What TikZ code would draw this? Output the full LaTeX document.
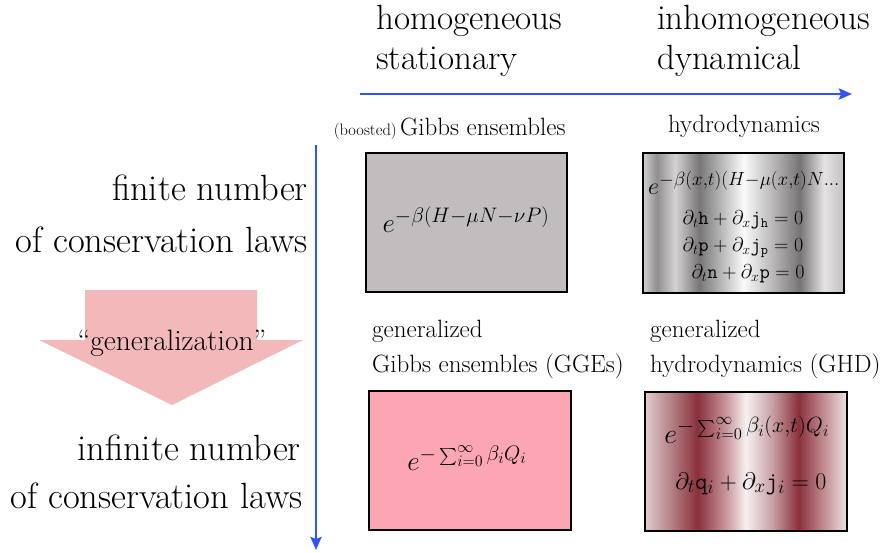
\RequirePackage{fix-cm}
\documentclass[tikz,border=0pt]{standalone}
\usepackage{graphicx}
\usetikzlibrary{arrows.meta}
\DeclareMathSizes{27}{27}{21}{16}
\DeclareMathSizes{28}{28}{22}{16.5}
\DeclareMathSizes{24}{24}{19}{14}
\newcommand{\bsum}{\mathop{\raisebox{-0.2em}{\scalebox{1.7}{$\scriptstyle\sum$}}}\nolimits}
\definecolor{axisblue}{RGB}{52,84,238}
\definecolor{boxgray}{RGB}{193,189,190}
\definecolor{boxpink}{RGB}{253,166,179}
\definecolor{fatpink}{RGB}{242,184,186}
\definecolor{g1}{RGB}{208,206,207}
\definecolor{g2}{RGB}{145,143,144}
\definecolor{g3}{RGB}{212,210,211}
\definecolor{g4}{RGB}{120,118,119}
\definecolor{g5}{RGB}{250,250,250}
\definecolor{g6}{RGB}{178,176,177}
\definecolor{g7}{RGB}{118,116,117}
\definecolor{g8}{RGB}{228,226,227}
\definecolor{g9}{RGB}{195,193,194}
\definecolor{m1}{RGB}{225,205,206}
\definecolor{m2}{RGB}{180,128,134}
\definecolor{m3}{RGB}{138,48,60}
\definecolor{m4}{RGB}{200,150,156}
\definecolor{m5}{RGB}{246,240,240}
\definecolor{m6}{RGB}{200,160,165}
\definecolor{m7}{RGB}{138,48,60}
\definecolor{m8}{RGB}{200,152,157}
\definecolor{m9}{RGB}{236,226,226}
\pgfdeclarehorizontalshading{graystripes}{100bp}{color(0bp)=(g1); color(25bp)=(g1); color(28.5bp)=(g2); color(33bp)=(g3); color(39bp)=(g4); color(50bp)=(g5); color(58bp)=(g6); color(64bp)=(g7); color(70bp)=(g8); color(75bp)=(g9); color(100bp)=(g9)}
\pgfdeclarehorizontalshading{maroonstripes}{100bp}{color(0bp)=(m1); color(25bp)=(m1); color(31.5bp)=(m2); color(38bp)=(m3); color(45bp)=(m4); color(50bp)=(m5); color(56.5bp)=(m6); color(63bp)=(m7); color(70bp)=(m8); color(75bp)=(m9); color(100bp)=(m9)}
\tikzset{
  bigtext/.style={font=\fontsize{36.5}{42}\selectfont, inner sep=0pt},
  toptext/.style={font=\fontsize{35}{40}\selectfont, inner sep=0pt},
  midtext/.style={font=\fontsize{25}{30}\selectfont, inner sep=0pt},
  smalltext/.style={font=\fontsize{16.5}{20}\selectfont, inner sep=0pt},
  formula/.style={font=\fontsize{27}{31}\selectfont, inner sep=0pt},
  bigformula/.style={font=\fontsize{28}{32}\selectfont, inner sep=0pt},
  hydroexp/.style={font=\fontsize{24}{28}\selectfont, inner sep=0pt},
  eqline/.style={font=\fontsize{20}{24}\selectfont, inner sep=0pt},
  axis/.style={draw=axisblue, line width=2.5pt, -{Stealth[length=13pt,width=11pt,inset=2pt]}},
  panel/.style={draw=black, line width=1.5pt},
}
\begin{document}
\begin{tikzpicture}[x=1pt,y=-1pt]
\useasboundingbox (0,0) rectangle (888,552);
% axes
\coordinate (hs) at (360,94);
\coordinate (he) at (852,94);
\coordinate (vs) at (316,145);
\coordinate (ve) at (316,550);
\draw[axis] (hs) -- (he);
\draw[axis] (vs) -- (ve);
% top labels
\node[toptext, anchor=base west] (hom) at (376,29) {homogeneous};
\node[toptext, anchor=base west] (sta) at (376,69) {stationary};
\node[toptext, anchor=base west] (inh) at (657,29) {inhomogeneous};
\node[toptext, anchor=base west] (dyn) at (657,69) {dynamical};
% left labels
\node[bigtext, anchor=base east] (fin1) at (308,200) {finite number};
\node[bigtext, anchor=base east] (fin2) at (308,252) {of conservation laws};
\node[bigtext, anchor=base east] (inf1) at (301,460) {infinite number};
\node[bigtext, anchor=base east] (inf2) at (303,508) {of conservation laws};
% fat arrow
\fill[fatpink] (85,290) -- (257,290) -- (257,340) -- (303,340) -- (172,405) -- (39,340) -- (85,340) -- cycle;
\node[inner sep=0pt, font=\fontsize{29.5}{34}\selectfont, anchor=base] (gen) at (172,350) {``generalization''};
% column labels
\node[smalltext, anchor=base east] (boo) at (397,135) {(boosted)};
\node[midtext, anchor=base west] (gib) at (400,135) {Gibbs ensembles};
\node[midtext, anchor=base] (hyd) at (744,132) {hydrodynamics};
\node[midtext, anchor=base west] (gz1) at (372,337) {generalized};
\node[midtext, anchor=base west] (gge) at (372,372) {Gibbs ensembles (GGEs)};
\node[midtext, anchor=base west] (gz2) at (650,337) {generalized};
\node[midtext, anchor=base west] (ghd) at (650,372) {hydrodynamics (GHD)};
% panels
\filldraw[panel, fill=boxgray] (366,153) rectangle (567,292);
\draw[panel, shading=graystripes] (643,153) rectangle (844,293);
\filldraw[panel, fill=boxpink] (369,391) rectangle (571,530);
\draw[panel, shading=maroonstripes] (645,392) rectangle (847,531);
% formulas
\node[formula, anchor=base] (fg) at (466,232) {$e^{-\beta(H-\mu N-\nu P)}$};
\node[hydroexp, anchor=base] (fh1) at (744,194) {$e^{-\beta(x,t)(H-\mu(x,t)N\ldots}$};
\node[eqline, anchor=base] (fh2) at (743,224) {$\partial_t\mathtt{h}+\partial_x\mathtt{j}_\mathtt{h}=0$};
\node[eqline, anchor=base] (fh3) at (743,251) {$\partial_t\mathtt{p}+\partial_x\mathtt{j}_\mathtt{p}=0$};
\node[eqline, anchor=base] (fh4) at (748,278) {$\partial_t\mathtt{n}+\partial_x\mathtt{p}=0$};
\node[formula, anchor=base] (fp) at (467,470) {$e^{-\bsum_{i=0}^{\infty}\beta_i Q_i}$};
\node[bigformula, anchor=base] (fq1) at (747,443) {$e^{-\bsum_{i=0}^{\infty}\beta_i(x,t) Q_i}$};
\node[hydroexp, anchor=base] (fq2) at (751,489) {$\partial_t\mathtt{q}_i+\partial_x\mathtt{j}_i=0$};
\end{tikzpicture}
\end{document}
